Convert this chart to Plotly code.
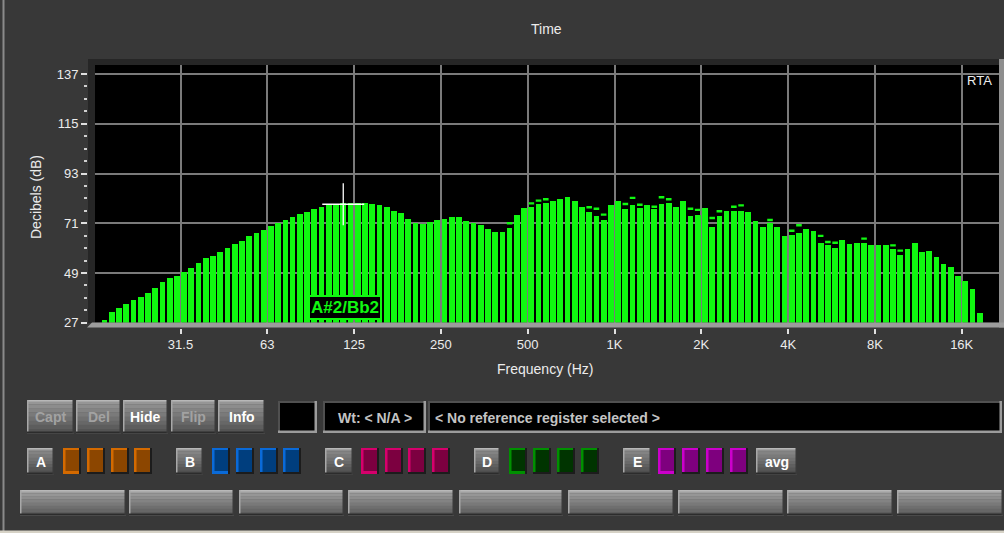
import numpy as np
import plotly.graph_objects as go

W, H = 1004, 533

# ---------------- data ----------------
band_count = 122
# 1/12-octave analyser band centres (Hz)
band_hz = 1000.0 * 2.0 ** ((np.arange(band_count) - 70.5) / 12.0)

level_db = [
    28.2, 31.9, 33.6, 35.4, 37.0, 38.2, 40.0, 42.5, 44.9, 46.6,
    47.8, 49.6, 51.3, 53.5, 55.5, 56.5, 58.3, 60.2, 61.8, 63.0,
    65.4, 66.6, 67.9, 69.6, 71.0, 72.4, 73.6, 75.0, 76.0, 77.2,
    78.3, 78.9, 78.9, 79.8, 80.1, 80.1, 80.1, 79.5, 78.9, 78.3,
    76.6, 75.4, 73.0, 71.2, 70.7, 71.6, 72.3, 73.0, 73.6, 73.6,
    71.9, 71.0, 70.1, 68.3, 67.1, 67.1, 68.9, 74.8, 77.8, 78.3,
    79.5, 80.1, 80.7, 81.9, 82.5, 80.7, 78.3, 76.0, 74.2, 72.4,
    78.9, 80.7, 77.2, 78.9, 77.8, 78.9, 77.2, 79.5, 80.1, 78.3,
    80.7, 74.2, 74.8, 77.8, 69.5, 74.2, 76.6, 76.6, 76.6, 76.0,
    71.9, 69.5, 71.0, 69.5, 65.4, 65.9, 66.6, 68.3, 67.7, 62.4,
    61.2, 60.1, 63.6, 61.8, 62.4, 62.4, 61.2, 61.2, 61.2, 59.7,
    57.1, 59.5, 62.4, 58.3, 58.9, 55.9, 53.0, 51.8, 47.7, 45.3,
    41.8, 31.2,
]

peak_band = [56, 59, 60, 61, 67, 68, 69, 72, 73, 74, 76, 77, 78, 81, 82,
             84, 85, 87, 88, 92, 95, 96, 99, 100, 101, 105, 109, 110]
peak_db = [71.0, 79.8, 81.0, 81.6, 78.1, 77.4, 74.8, 79.5, 82.2, 79.2, 78.3,
           82.5, 81.6, 77.4, 76.9, 73.3, 76.3, 78.3, 78.9, 72.4, 67.7, 70.1,
           65.4, 62.7, 62.4, 64.2, 61.2, 58.9]

tick_hz = [31.25, 62.5, 125, 250, 500, 1000, 2000, 4000, 8000, 16000]
tick_text = ["31.5", "63", "125", "250", "500", "1K", "2K", "4K", "8K", "16K"]

y_min, y_max, y_step = 27, 141, 22

cursor_band = 33
cursor_db = 79.4
note_hz = 116.54
note_name = "A#2/Bb2"

# ---------------- style ----------------
GREEN = "#10f810"
TXT = "#ececec"
FONT = "Liberation Sans, Arial, sans-serif"


def octv(f):
    return np.log2(np.asarray(f, dtype=float) / 1000.0)


band_oct = octv(band_hz)


def px(x):
    return x / W


def py(y):
    return 1 - y / H


fig = go.Figure()
fig.add_bar(x=band_oct, y=level_db, width=0.79 / 12,
            marker=dict(color=GREEN, line=dict(width=0)), hoverinfo="skip")
fig.add_scatter(x=band_oct[peak_band], y=peak_db, mode="markers",
                marker=dict(symbol="line-ew", size=4, color=GREEN,
                            line=dict(color=GREEN, width=2.4)), hoverinfo="skip")
fig.add_scatter(x=[band_oct[cursor_band]], y=[cursor_db], mode="markers",
                marker=dict(symbol="cross-thin", size=30, color="white",
                            line=dict(color="white", width=1.3)), hoverinfo="skip")

shapes = []
annots = []


def rect(x0, y0, x1, y1, fill, line_color=None, lw=0, layer="above"):
    shapes.append(dict(type="rect", xref="paper", yref="paper",
                       x0=px(x0), x1=px(x1), y0=py(y1), y1=py(y0),
                       fillcolor=fill, layer=layer,
                       line=dict(width=lw, color=line_color or fill)))


def text(x, y, s, size=14, color=TXT, bold=False, xanchor="center", angle=0):
    annots.append(dict(xref="paper", yref="paper", x=px(x), y=py(y),
                       text=("<b>%s</b>" % s) if bold else s, showarrow=False,
                       xanchor=xanchor, yanchor="middle", textangle=angle,
                       font=dict(family=FONT, size=size, color=color)))


def mix(c0, c1, t):
    return "rgb(%d,%d,%d)" % tuple(int(round(a + (b - a) * t)) for a, b in zip(c0, c1))


def button(x0, y0, x1, y1, top=(150, 150, 150), bot=(84, 84, 84), label=None,
           lcolor="white", size=14):
    n = 8
    h = (y1 - y0) / n
    for k in range(n):
        rect(x0, y0 + k * h, x1, y0 + (k + 1) * h + 0.4, mix(top, bot, k / (n - 1)))
    rect(x0, y0, x1, y0 + 1.5, "#b8b8b8")
    rect(x0, y0, x0 + 1.5, y1, "#a8a8a8")
    rect(x0, y1 - 1.5, x1, y1, "#2c2c2c")
    rect(x1 - 1.5, y0, x1, y1, "#3a3a3a")
    if label:
        text((x0 + x1) / 2, (y0 + y1) / 2 + 0.5, label, size=size, color=lcolor, bold=True)


def swatch(x0, y0, x1, y1, dark, bright, first=False):
    rect(x0, y0, x1, y1, dark)
    rect(x0, y0, x1, y0 + 2, bright)
    rect(x0, y0, x0 + 2.5, y1, bright)
    rect(x1 - 2, y0, x1, y1, "#1c1c1c")
    rect(x0, y1 - 2, x1, y1, "#1c1c1c")
    if first:
        rect(x0, y1 - 3, x1 - 2, y1, bright)


def blackbox(x0, y0, x1, y1, label=None, xanchor="center"):
    rect(x0, y0, x1, y1, "black")
    rect(x0, y0, x1, y0 + 2, "#505050")
    rect(x0, y0, x0 + 2, y1, "#505050")
    rect(x0, y1 - 2.5, x1, y1, "#9c9c9c")
    rect(x1 - 2.5, y0, x1, y1, "#9c9c9c")
    if label:
        if xanchor == "center":
            text((x0 + x1) / 2, (y0 + y1) / 2 + 0.5, label, size=14, color="#c4c4c4", bold=True)
        else:
            text(x0 + 5, (y0 + y1) / 2 + 0.5, label, size=14, color="#c4c4c4", bold=True,
                 xanchor="left")


# ---- window edges ----
rect(2.5, 0, 4.5, H, "#8a8a8a")
rect(0, 530.5, W, H, "#d6d2c6")

# ---- plot frame ----
rect(88, 59, 1003, 65, "#262626")
rect(88, 59, 95, 323, "#262626")
rect(999, 59, 1004, 327.5, "#8e8e8e")
shapes.append(dict(type="path", xref="paper", yref="paper", layer="above",
                   path="M %f,%f L %f,%f L %f,%f L %f,%f Z" % (
                       px(92), py(322.5), px(1004), py(322.5),
                       px(1004), py(327.5), px(87), py(327.5)),
                   fillcolor="#9c9c9c", line=dict(width=0)))

# ---- row 1 controls ----
row1 = [("Capt", 27, 74, "#a2a2a2"), ("Del", 76, 121, "#a2a2a2"),
        ("Hide", 123, 168, "white"), ("Flip", 171, 216, "#a2a2a2"),
        ("Info", 218, 265, "white")]
for lab, a, b, col in row1:
    button(a, 400, b, 433, label=lab, lcolor=col)
blackbox(278, 401, 317, 433)
blackbox(323, 401, 426, 433, "Wt: &lt; N/A &gt;")
blackbox(428, 401, 1002, 433, "&lt; No reference register selected &gt;", xanchor="left")

# ---- row 2: register groups ----
groups = [
    ("A", 27, 54, [63, 87, 111, 134], (140, 70, 0), "#d46a00"),
    ("B", 176, 203, [212, 236, 260, 283], (0, 62, 126), "#0a6ad8"),
    ("C", 325, 353, [361, 385, 408, 432], (124, 0, 64), "#d6006c"),
    ("D", 474, 500, [509, 533, 557, 581], (0, 52, 0), "#009000"),
    ("E", 623, 651, [658, 682, 706, 730], (126, 0, 126), "#cc00cc"),
]
for lab, a, b, sx, dark, bright in groups:
    button(a, 448, b, 474, top=(140, 140, 140), bot=(78, 78, 78), label=lab, size=14)
    for k, s in enumerate(sx):
        swatch(s, 448, s + 18, 474, "rgb(%d,%d,%d)" % dark, bright, first=(k == 0))
button(756, 448, 797, 474, top=(140, 140, 140), bot=(78, 78, 78), label="avg", size=14)

# ---- row 3: wide buttons ----
for a, b in [(20, 126), (129, 234), (239, 344), (348, 454), (459, 563),
             (568, 674), (678, 784), (787, 893), (897, 1003)]:
    button(a, 490, b, 515, top=(160, 160, 160), bot=(92, 92, 92))

# ---- texts ----
text(546, 29, "Time", size=14)
text(545, 369, "Frequency (Hz)", size=14)
text(36, 197, "Decibels (dB)", size=14, angle=-90)
text(994, 80, "RTA", size=13, xanchor="right")

annots.append(dict(x=float(octv(note_hz)), y=y_min, xref="x", yref="y",
                   text="<b>%s</b>" % note_name, showarrow=True, ax=0, ay=-15,
                   arrowhead=0, arrowwidth=2, arrowcolor=GREEN,
                   bgcolor="black", bordercolor=GREEN, borderwidth=2, borderpad=1,
                   font=dict(family=FONT, size=17, color=GREEN)))

x_lo = (95 - 614.5) / 86.8
x_hi = (999 - 614.5) / 86.8

fig.update_layout(
    template="none",
    width=W, height=H,
    margin=dict(l=0, r=0, t=0, b=0, pad=0),
    paper_bgcolor="#383838",
    plot_bgcolor="black",
    showlegend=False,
    bargap=0,
    shapes=shapes,
    annotations=annots,
    font=dict(family=FONT, color=TXT, size=13),
    xaxis=dict(domain=[px(95), px(999)], range=[x_lo, x_hi], anchor="free",
               position=py(327.5), tickmode="array", tickvals=list(octv(tick_hz)),
               ticktext=tick_text, ticks="outside", ticklen=5, tickwidth=1.5,
               tickcolor="#e0e0e0", showgrid=True, gridcolor="#7a7a7a", gridwidth=1.5,
               zeroline=False, showline=False, automargin=False,
               tickfont=dict(family=FONT, size=13, color=TXT)),
    yaxis=dict(domain=[py(322.7), py(65)], range=[y_min, y_max], anchor="free",
               position=px(87), tickmode="linear", tick0=y_min, dtick=y_step,
               ticks="outside", ticklen=6, tickwidth=1.5, tickcolor="#e0e0e0",
               minor=dict(dtick=y_step / 4, tick0=y_min, ticks="outside", ticklen=3,
                          tickwidth=1.5, tickcolor="#d0d0d0", showgrid=False),
               showgrid=True, gridcolor="#7a7a7a", gridwidth=1.5,
               zeroline=False, showline=False, automargin=False,
               tickfont=dict(family=FONT, size=13, color=TXT)),
)

fig.write_html("out.html", config={"displayModeBar": False},
               post_script="document.body.style.margin='0';document.body.style.overflow='hidden';")
